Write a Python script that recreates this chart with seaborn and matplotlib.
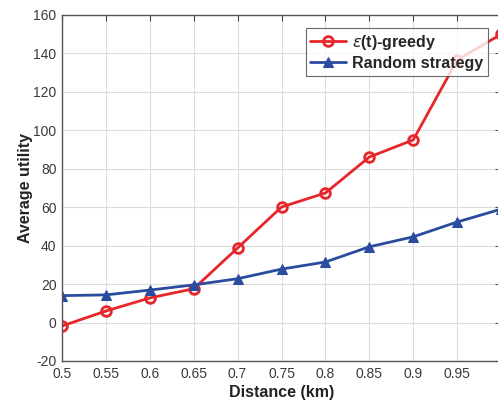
import matplotlib
matplotlib.use('Agg')
import matplotlib.pyplot as plt
import seaborn as sns
import pandas as pd

distance = [0.5, 0.55, 0.6, 0.65, 0.7, 0.75, 0.8, 0.85, 0.9, 0.95, 1.0]
greedy = [-1.8, 6.0, 12.8, 17.6, 38.8, 60.1, 67.4, 86.1, 95.0, 136.5, 150.0]
random_strategy = [14.0, 14.4, 16.9, 19.6, 22.8, 27.8, 31.5, 39.4, 44.6, 52.3, 59.0]
yticks = [-20, 0, 20, 40, 60, 80, 100, 120, 140, 160]
xticks = [0.5, 0.55, 0.6, 0.65, 0.7, 0.75, 0.8, 0.85, 0.9, 0.95, 1.0]
# the last label ("1") falls outside the cropped picture
xticklabels = ['0.5', '0.55', '0.6', '0.65', '0.7', '0.75', '0.8', '0.85', '0.9', '0.95', '']

sns.set_style('whitegrid')
plt.rcParams['font.family'] = ['Liberation Sans', 'DejaVu Sans']
plt.rcParams['axes.unicode_minus'] = False

df = pd.DataFrame({'distance': distance, 'greedy': greedy, 'random': random_strategy})

fig = plt.figure(figsize=(4.98, 4.07), dpi=100)
# axes runs a bit past the right edge, like the cropped original
ax = fig.add_axes([62 / 498, 46 / 407, 439 / 498, 346 / 407])

sns.lineplot(data=df, x='distance', y='greedy', ax=ax, color='#e8262a', lw=2,
             marker='o', markersize=7, markerfacecolor='none', markeredgecolor='#e8262a',
             markeredgewidth=2, label=r'$\epsilon$(t)-greedy')
sns.lineplot(data=df, x='distance', y='random', ax=ax, color='#2a4c9e', lw=2,
             marker='^', markersize=7.5, markerfacecolor='#2a4c9e', markeredgecolor='#2a4c9e',
             label='Random strategy')

ax.set_xlim(0.5, 1.0)
ax.set_ylim(-20, 160)
ax.set_xticks(xticks)
ax.set_xticklabels(xticklabels)
ax.set_yticks(yticks)
ax.tick_params(axis='both', labelsize=10, labelcolor='#3a3a3a', direction='in',
               length=4, color='#4a4a4a', top=True, right=True, pad=4)
ax.grid(True, color='#dcdcdc', lw=0.8)
for s in ax.spines.values():
    s.set_color('#555555')
    s.set_linewidth(1.0)

ax.set_xlabel('Distance (km)', fontsize=11.5, fontweight='bold', color='#222222', labelpad=3)
ax.set_ylabel('Average utility', fontsize=11.5, fontweight='bold', color='#222222', labelpad=0)

leg = ax.legend(loc='upper right', bbox_to_anchor=(0.970, 0.962), frameon=True, fancybox=False,
                edgecolor='#444444', prop={'weight': 'bold', 'size': 11.5},
                handlelength=2.2, borderpad=0.3, labelspacing=0.25, handletextpad=0.4,
                borderaxespad=0)
leg.get_frame().set_linewidth(0.8)

fig.savefig('out.png', dpi=100)
